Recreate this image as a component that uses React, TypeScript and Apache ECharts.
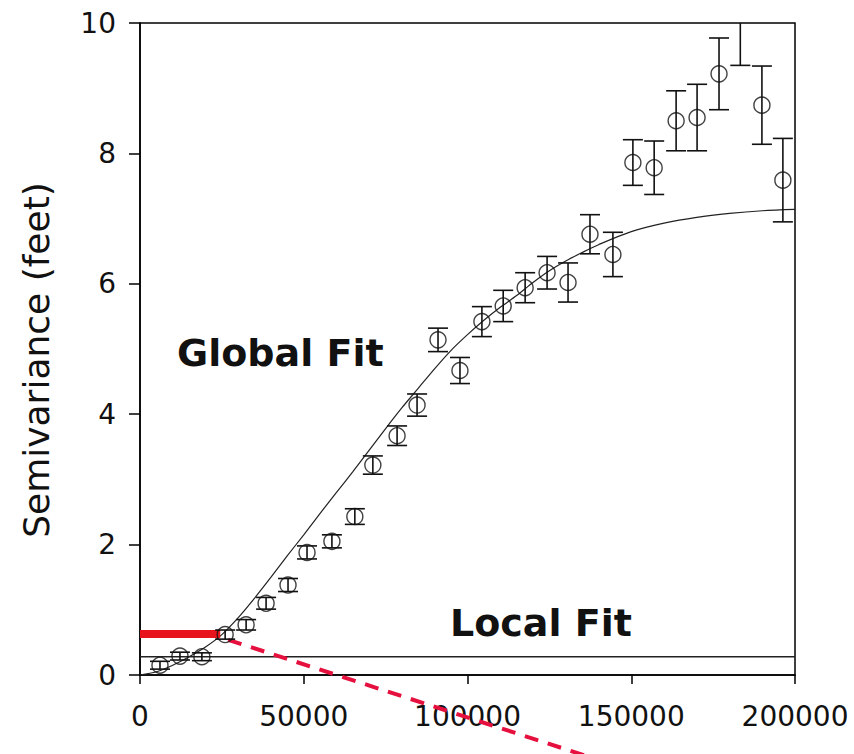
import React, { useEffect, useRef } from "react";
import * as echarts from "echarts";

// Experimental semivariogram (lag distance vs semivariance) with error bars
const distance = [6100, 12200, 18900, 26000, 32400, 38500, 45200, 51000, 58600, 65600, 71100, 78500, 84600, 91000, 97700, 104400, 110900, 117600, 124300, 130700, 137400, 144400, 150500, 157000, 163700, 170100, 176800, 183300, 189900, 196300];
const semivariance = [0.15, 0.29, 0.28, 0.62, 0.77, 1.1, 1.38, 1.88, 2.05, 2.43, 3.22, 3.67, 4.14, 5.14, 4.67, 5.42, 5.66, 5.94, 6.17, 6.02, 6.76, 6.45, 7.86, 7.78, 8.5, 8.55, 9.22, 10.2, 8.74, 7.59];
const errorHalf = [0.06, 0.06, 0.06, 0.07, 0.08, 0.09, 0.1, 0.1, 0.1, 0.12, 0.14, 0.15, 0.17, 0.18, 0.2, 0.23, 0.24, 0.23, 0.25, 0.3, 0.3, 0.34, 0.35, 0.41, 0.46, 0.51, 0.55, 0.85, 0.6, 0.64];

// Global fit curve
const fitDistance = [0, 5000, 10000, 15000, 20000, 25000, 30000, 35000, 40000, 45000, 50000, 55000, 60000, 65000, 70000, 75000, 80000, 85000, 90000, 95000, 100000, 105000, 110000, 115000, 120000, 125000, 130000, 135000, 140000, 150000, 160000, 170000, 180000, 190000, 200000];
const fitValue = [0, 0.05, 0.15, 0.28, 0.43, 0.62, 0.88, 1.18, 1.5, 1.83, 2.15, 2.48, 2.8, 3.12, 3.45, 3.78, 4.1, 4.4, 4.7, 4.98, 5.22, 5.44, 5.64, 5.82, 6.02, 6.2, 6.35, 6.48, 6.6, 6.8, 6.93, 7.02, 7.08, 7.12, 7.14];

// Local fit (flat line)
const localFitX = [0, 200000];
const localFitY = [0.28, 0.28];

// Red nugget segment and red dashed extrapolation
const redSegmentX = [0, 24500];
const redSegmentY = [0.63, 0.63];
const redDashX = [26900, 137400];
const redDashY = [0.54, -1.26];

const xTicks = [0, 50000, 100000, 150000, 200000];
const yTicks = [0, 2, 4, 6, 8, 10];

const FONT = "DejaVu Sans";

export default function App() {
  const ref = useRef<HTMLDivElement>(null);
  useEffect(() => {
    document.body.style.margin = "0";
    const chart = echarts.init(ref.current!, null, { renderer: "svg" });
    const errData = distance.map((d, i) => [d, semivariance[i], semivariance[i] - errorHalf[i], semivariance[i] + errorHalf[i]]);
    chart.setOption({
      animation: false,
      backgroundColor: "#ffffff",
      grid: { left: 140, right: 59, top: 23, bottom: 79, show: true, borderColor: "#000", borderWidth: 1.5, backgroundColor: "transparent" },
      xAxis: {
        type: "value",
        min: xTicks[0],
        max: xTicks[xTicks.length - 1],
        interval: 50000,
        axisLine: { show: true, onZero: false, lineStyle: { color: "#000", width: 1.5 } },
        axisTick: { show: true, inside: false, length: 9, lineStyle: { color: "#000", width: 1.5 } },
        splitLine: { show: false },
        axisLabel: { fontFamily: FONT, fontSize: 28, color: "#111", margin: 27, formatter: (v: number) => String(v) },
      },
      yAxis: {
        type: "value",
        min: yTicks[0],
        max: yTicks[yTicks.length - 1],
        interval: 2,
        name: "Semivariance (feet)",
        nameLocation: "middle",
        nameGap: 86,
        nameRotate: 90,
        nameTextStyle: { fontFamily: FONT, fontSize: 36, color: "#111", padding: [0, 22, 0, 0] },
        axisLine: { show: true, lineStyle: { color: "#000", width: 1.5 } },
        axisTick: { show: true, inside: false, length: 11, lineStyle: { color: "#000", width: 1.5 } },
        splitLine: { show: false },
        axisLabel: { fontFamily: FONT, fontSize: 28, color: "#111", margin: 24 },
      },
      graphic: [
        { type: "text", left: 177, top: 334, style: { text: "Global Fit", font: `bold 38px "${FONT}"`, fill: "#111" } },
        { type: "text", left: 450, top: 604, style: { text: "Local Fit", font: `bold 38px "${FONT}"`, fill: "#111" } },
      ],
      series: [
        {
          type: "line",
          data: localFitX.map((x, i) => [x, localFitY[i]]),
          symbol: "none",
          lineStyle: { color: "#222", width: 1.5 },
          z: 3,
        },
        {
          type: "line",
          data: fitDistance.map((x, i) => [x, fitValue[i]]),
          symbol: "none",
          smooth: 0.3,
          lineStyle: { color: "#222", width: 1.2 },
          z: 3,
        },
        {
          type: "line",
          data: redSegmentX.map((x, i) => [x, redSegmentY[i]]),
          symbol: "none",
          lineStyle: { color: "#e8141c", width: 8 },
          z: 4,
        },
        {
          type: "line",
          data: redDashX.map((x, i) => [x, redDashY[i]]),
          symbol: "none",
          clip: false,
          lineStyle: { color: "#e5103e", width: 4, type: [14, 10] },
          z: 4,
        },
        {
          type: "custom",
          clip: true,
          data: errData,
          renderItem: (params: any, api: any) => {
            const x = api.value(0);
            const lo = api.coord([x, api.value(2)]);
            const hi = api.coord([x, api.value(3)]);
            const half = 10;
            const style = { stroke: "#111", lineWidth: 1.6 };
            return {
              type: "group",
              children: [
                { type: "line", shape: { x1: lo[0], y1: lo[1], x2: hi[0], y2: hi[1] }, style },
                { type: "line", shape: { x1: lo[0] - half, y1: lo[1], x2: lo[0] + half, y2: lo[1] }, style },
                { type: "line", shape: { x1: hi[0] - half, y1: hi[1], x2: hi[0] + half, y2: hi[1] }, style },
              ],
            };
          },
          z: 5,
        },
        {
          type: "scatter",
          data: distance.map((d, i) => [d, semivariance[i]]),
          symbol: "circle",
          symbolSize: 16,
          clip: true,
          itemStyle: { color: "transparent", borderColor: "#111", borderWidth: 1.4 },
          z: 6,
        },
      ],
    });
    return () => chart.dispose();
  }, []);
  return <div ref={ref} style={{ position: "fixed", left: 0, top: 0, width: 854, height: 754 }} />;
}
